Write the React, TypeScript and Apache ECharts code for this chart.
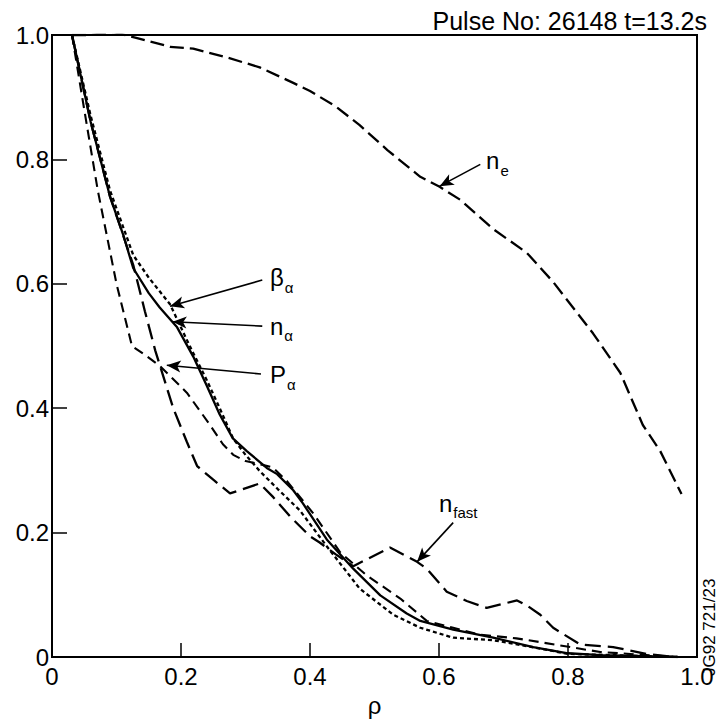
import React, { useEffect, useRef } from "react";
import * as echarts from "echarts";

// ---- data ----
const neRho = [0.031, 0.06, 0.095, 0.132, 0.183, 0.219, 0.271, 0.322, 0.374, 0.4, 0.44, 0.477, 0.52, 0.571, 0.601, 0.633, 0.684, 0.736, 0.777, 0.839, 0.881, 0.916, 0.943, 0.976];
const neVal = [1.0, 1.0, 1.005, 0.995, 0.981, 0.978, 0.964, 0.948, 0.923, 0.91, 0.885, 0.855, 0.815, 0.772, 0.756, 0.735, 0.688, 0.65, 0.603, 0.52, 0.457, 0.373, 0.331, 0.262];

const naRho = [0.031, 0.06, 0.09, 0.11, 0.126, 0.15, 0.167, 0.194, 0.219, 0.24, 0.26, 0.28, 0.302, 0.333, 0.349, 0.374, 0.389, 0.426, 0.467, 0.509, 0.55, 0.571, 0.622, 0.684, 0.746, 0.8, 0.85, 0.97];
const naVal = [1.0, 0.86, 0.74, 0.68, 0.625, 0.585, 0.562, 0.53, 0.483, 0.436, 0.39, 0.352, 0.331, 0.304, 0.294, 0.268, 0.247, 0.189, 0.142, 0.099, 0.07, 0.058, 0.044, 0.031, 0.016, 0.006, 0.003, 0.0];

const baRho = [0.031, 0.06, 0.09, 0.126, 0.15, 0.183, 0.214, 0.24, 0.26, 0.281, 0.3, 0.322, 0.35, 0.384, 0.426, 0.477, 0.529, 0.571, 0.622, 0.684, 0.75, 0.8, 0.97];
const baVal = [1.0, 0.87, 0.75, 0.646, 0.61, 0.567, 0.499, 0.445, 0.4, 0.351, 0.325, 0.299, 0.27, 0.236, 0.178, 0.11, 0.068, 0.047, 0.031, 0.027, 0.015, 0.005, 0.0];

const paRho = [0.031, 0.05, 0.071, 0.1, 0.124, 0.145, 0.167, 0.209, 0.245, 0.265, 0.281, 0.3, 0.322, 0.342, 0.364, 0.405, 0.447, 0.488, 0.54, 0.581, 0.622, 0.663, 0.72, 0.78, 0.85, 0.97];
const paVal = [1.0, 0.88, 0.75, 0.6, 0.5, 0.485, 0.468, 0.425, 0.373, 0.342, 0.325, 0.315, 0.31, 0.305, 0.283, 0.231, 0.168, 0.131, 0.094, 0.058, 0.047, 0.036, 0.03, 0.02, 0.008, 0.0];

const nfRho = [0.031, 0.06, 0.09, 0.126, 0.144, 0.16, 0.188, 0.209, 0.225, 0.25, 0.276, 0.322, 0.343, 0.37, 0.4, 0.415, 0.44, 0.467, 0.524, 0.566, 0.581, 0.612, 0.643, 0.674, 0.721, 0.736, 0.757, 0.777, 0.819, 0.87, 0.922, 0.963];
const nfVal = [1.0, 0.86, 0.74, 0.63, 0.556, 0.493, 0.4, 0.346, 0.307, 0.285, 0.263, 0.279, 0.257, 0.225, 0.194, 0.184, 0.165, 0.146, 0.176, 0.153, 0.142, 0.105, 0.09, 0.079, 0.091, 0.083, 0.068, 0.047, 0.02, 0.016, 0.005, 0.0];

// annotations: [label main, subscript, labelX, labelY, arrowFromX, arrowFromY, arrowToX, arrowToY]
const annotations: [string, string, number, number, number, number, number, number][] = [
  ["n", "e", 0.673, 0.798, 0.664, 0.792, 0.601, 0.757],
  ["β", "α", 0.338, 0.61, 0.326, 0.606, 0.183, 0.564],
  ["n", "α", 0.338, 0.532, 0.326, 0.532, 0.187, 0.539],
  ["P", "α", 0.338, 0.454, 0.324, 0.455, 0.178, 0.469],
  ["n", "fast", 0.6, 0.247, 0.622, 0.216, 0.566, 0.153],
];

const zip = (a: number[], b: number[]) => a.map((v, i) => [v, b[i]]);

const FONT = "'Liberation Sans', Arial, Helvetica, sans-serif";

export default function App() {
  const ref = useRef<HTMLDivElement>(null);
  useEffect(() => {
    if (!ref.current) return;
    const chart = echarts.init(ref.current, undefined, { renderer: "svg" });
    const lineBase = { type: "line" as const, showSymbol: false, smooth: false, silent: true };
    chart.setOption({
      animation: false,
      backgroundColor: "#fff",
      textStyle: { fontFamily: FONT },
      title: {
        text: "Pulse No: 26148 t=13.2s",
        right: 8,
        top: 3,
        textStyle: { fontFamily: FONT, fontSize: 25, fontWeight: "normal", color: "#000" },
      },
      grid: {
        left: 52,
        right: 23,
        top: 35,
        bottom: 51,
        show: true,
        borderColor: "#000",
        borderWidth: 2,
        backgroundColor: "transparent",
      },
      xAxis: {
        type: "value",
        min: 0,
        max: 1,
        interval: 0.2,
        name: "ρ",
        nameLocation: "middle",
        nameGap: 36,
        nameTextStyle: { fontFamily: FONT, fontSize: 24, color: "#000" },
        axisLine: { show: true, lineStyle: { color: "#000", width: 2 } },
        axisTick: { show: true, inside: true, length: 14, lineStyle: { color: "#000", width: 1.5 } },
        axisLabel: {
          fontFamily: FONT,
          fontSize: 24,
          lineHeight: 20,
          color: "#000",
          margin: 9,
          formatter: (v: number) => (v === 0 ? "0" : v.toFixed(1)),
        },
        splitLine: { show: false },
      },
      yAxis: {
        type: "value",
        min: 0,
        max: 1,
        interval: 0.2,
        axisLine: { show: true, lineStyle: { color: "#000", width: 2 } },
        axisTick: { show: true, inside: true, length: 15, lineStyle: { color: "#000", width: 1.5 } },
        axisLabel: {
          fontFamily: FONT,
          fontSize: 24,
          lineHeight: 20,
          color: "#000",
          margin: 3,
          formatter: (v: number) => (v === 0 ? "{z|0}" : v.toFixed(1)),
          rich: { z: { fontFamily: FONT, fontSize: 24, lineHeight: 14, color: "#000" } },
        },
        splitLine: { show: false },
      },
      series: [
        { ...lineBase, name: "ne", data: zip(neRho, neVal), lineStyle: { color: "#000", width: 2.3, type: [14, 6] } },
        { ...lineBase, name: "nalpha", data: zip(naRho, naVal), lineStyle: { color: "#000", width: 2.3, type: "solid" } },
        { ...lineBase, name: "betaalpha", data: zip(baRho, baVal), lineStyle: { color: "#000", width: 2.3, type: [4, 3] } },
        { ...lineBase, name: "Palpha", data: zip(paRho, paVal), lineStyle: { color: "#000", width: 2.1, type: [10, 6] } },
        { ...lineBase, name: "nfast", data: zip(nfRho, nfVal), lineStyle: { color: "#000", width: 2.3, type: [16, 7] } },
        {
          type: "line",
          name: "annotations",
          data: [],
          silent: true,
          markLine: {
            silent: true,
            symbol: ["none", "arrow"],
            symbolSize: 12,
            label: { show: false },
            lineStyle: { color: "#000", width: 1.6, type: "solid" },
            data: annotations.map((a) => [
              { coord: [a[4], a[5]], symbol: "none" },
              { coord: [a[6], a[7]], symbol: "arrow", symbolSize: [9, 14] },
            ]),
          },
          markPoint: {
            silent: true,
            symbol: "circle",
            symbolSize: 0,
            data: annotations.map((a) => ({
              coord: [a[2], a[3]],
              label: {
                show: true,
                position: "right",
                distance: 0,
                formatter: `{m|${a[0]}}{s|${a[1]}}`,
                rich: {
                  m: { fontFamily: FONT, fontSize: 24, color: "#000", lineHeight: 24, verticalAlign: "top" },
                  s: { fontFamily: FONT, fontSize: 15, color: "#000", lineHeight: 15, padding: [14, 0, 0, 1], verticalAlign: "top" },
                },
              },
            })),
          },
        },
      ],
      graphic: [
        {
          type: "text",
          x: 701,
          y: 676,
          rotation: Math.PI / 2,
          style: { text: "JG92 721/23", fontFamily: FONT, fontSize: 17, fill: "#000", textAlign: "left", textVerticalAlign: "top" },
        },
      ],
    });
    return () => chart.dispose();
  }, []);
  return <div ref={ref} style={{ position: "fixed", left: 0, top: 0, width: 720, height: 722, background: "#fff" }} />;
}
